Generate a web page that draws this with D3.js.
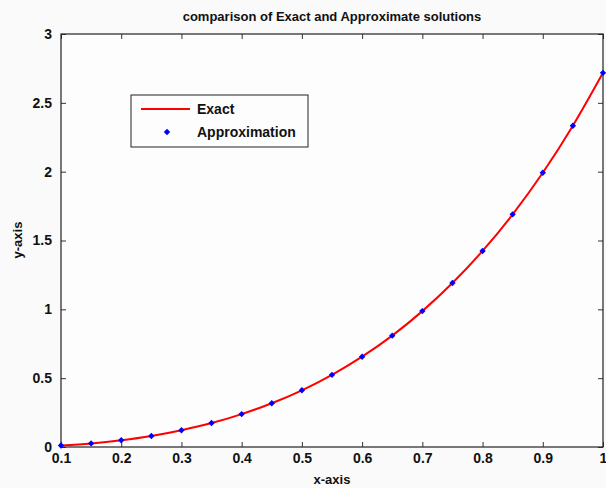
<!DOCTYPE html>
<html>
<head>
<meta charset="utf-8">
<script src="https://cdn.jsdelivr.net/npm/d3@7"></script>
<style>
  body { margin: 0; background: #fafafa; }
  text { font-family: Arial, "Liberation Sans", sans-serif; font-weight: bold; fill: #111; }
</style>
</head>
<body>
<div id="chart"></div>
<script>
// data
var xValues = [0.10, 0.15, 0.20, 0.25, 0.30, 0.35, 0.40, 0.45, 0.50, 0.55,
               0.60, 0.65, 0.70, 0.75, 0.80, 0.85, 0.90, 0.95, 1.00];
var exactValues = [0.011, 0.026, 0.049, 0.080, 0.122, 0.174, 0.239, 0.318, 0.412, 0.524,
                   0.656, 0.809, 0.987, 1.191, 1.424, 1.690, 1.992, 2.334, 2.718];
var approxValues = [0.011, 0.026, 0.049, 0.080, 0.122, 0.174, 0.239, 0.318, 0.412, 0.524,
                    0.656, 0.809, 0.987, 1.191, 1.424, 1.690, 1.992, 2.334, 2.718];
var xTicks = [0.1, 0.2, 0.3, 0.4, 0.5, 0.6, 0.7, 0.8, 0.9, 1];
var yTicks = [0, 0.5, 1, 1.5, 2, 2.5, 3];
var seriesNames = ['Exact', 'Approximation'];

var width = 606, height = 488;
var margin = { top: 34, right: 3, bottom: 41, left: 61 };

var svg = d3.select('#chart').append('svg')
    .attr('width', width)
    .attr('height', height);

var x = d3.scaleLinear().domain([0.1, 1]).range([margin.left, width - margin.right]);
var y = d3.scaleLinear().domain([0, 3]).range([height - margin.bottom, margin.top]);

// plot background
svg.append('rect')
    .attr('x', x(0.1)).attr('y', y(3))
    .attr('width', x(1) - x(0.1)).attr('height', y(0) - y(3))
    .attr('fill', '#fdfdfd');

var fmt = function (d) { return d3.format('')(d); };

function styleAxis(g) {
  g.select('.domain').remove();
  g.selectAll('line').attr('stroke', '#333').attr('stroke-width', 1);
  g.selectAll('text').style('font-size', '14px').style('font-family', 'Arial, "Liberation Sans", sans-serif').style('font-weight', 'bold').attr('fill', '#111');
}

// bottom axis, ticks inward
svg.append('g')
    .attr('transform', 'translate(0,' + y(0) + ')')
    .call(d3.axisBottom(x).tickValues(xTicks).tickFormat(fmt).tickSizeInner(-5).tickSizeOuter(0).tickPadding(6))
    .call(styleAxis)
    .selectAll('text').attr('dy', '0.71em');

// top axis ticks only
svg.append('g')
    .attr('transform', 'translate(0,' + y(3) + ')')
    .call(d3.axisTop(x).tickValues(xTicks).tickFormat('').tickSizeInner(-5).tickSizeOuter(0))
    .call(styleAxis);

// left axis
svg.append('g')
    .attr('transform', 'translate(' + x(0.1) + ',0)')
    .call(d3.axisLeft(y).tickValues(yTicks).tickFormat(fmt).tickSizeInner(-5).tickSizeOuter(0).tickPadding(9))
    .call(styleAxis);

// right axis ticks only
svg.append('g')
    .attr('transform', 'translate(' + x(1) + ',0)')
    .call(d3.axisRight(y).tickValues(yTicks).tickFormat('').tickSizeInner(-5).tickSizeOuter(0))
    .call(styleAxis);

// box
svg.append('rect')
    .attr('x', x(0.1)).attr('y', y(3))
    .attr('width', x(1) - x(0.1)).attr('height', y(0) - y(3))
    .attr('fill', 'none').attr('stroke', '#222').attr('stroke-width', 1.2);

var pts = xValues.map(function (d, i) { return { x: d, exact: exactValues[i], approx: approxValues[i] }; });

var line = d3.line()
    .x(function (d) { return x(d.x); })
    .y(function (d) { return y(d.exact); })
    .curve(d3.curveMonotoneX);

svg.append('path')
    .datum(pts)
    .attr('d', line)
    .attr('fill', 'none')
    .attr('stroke', '#ff0000')
    .attr('stroke-width', 2);

var diamond = d3.symbol().type(d3.symbolDiamond2).size(26);

svg.selectAll('path.approx')
    .data(pts)
    .enter()
    .append('path')
    .attr('class', 'approx')
    .attr('d', diamond)
    .attr('transform', function (d) { return 'translate(' + x(d.x) + ',' + y(d.approx) + ')'; })
    .attr('fill', '#0000ff');

// title and axis labels
svg.append('text')
    .attr('x', 332).attr('y', 21)
    .attr('text-anchor', 'middle')
    .style('font-size', '13px')
    .text('comparison of Exact and Approximate solutions');

svg.append('text')
    .attr('x', 332).attr('y', 484)
    .attr('text-anchor', 'middle')
    .style('font-size', '13px')
    .text('x-axis');

svg.append('text')
    .attr('transform', 'translate(22,' + 240 + ') rotate(-90)')
    .attr('text-anchor', 'middle')
    .style('font-size', '13px')
    .text('y-axis');

// legend
var legend = svg.append('g').attr('transform', 'translate(131,95)');
legend.append('rect')
    .attr('width', 177).attr('height', 52)
    .attr('fill', '#fdfdfd').attr('stroke', '#222').attr('stroke-width', 1);
legend.append('line')
    .attr('x1', 10).attr('x2', 59).attr('y1', 14).attr('y2', 14)
    .attr('stroke', '#ff0000').attr('stroke-width', 2);
legend.append('path')
    .attr('d', diamond)
    .attr('transform', 'translate(36,37)')
    .attr('fill', '#0000ff');
legend.selectAll('text.lbl')
    .data(seriesNames)
    .enter()
    .append('text')
    .attr('class', 'lbl')
    .attr('x', 66)
    .attr('y', function (d, i) { return 19 + i * 23; })
    .style('font-size', '14px')
    .text(function (d) { return d; });
</script>
</body>
</html>
